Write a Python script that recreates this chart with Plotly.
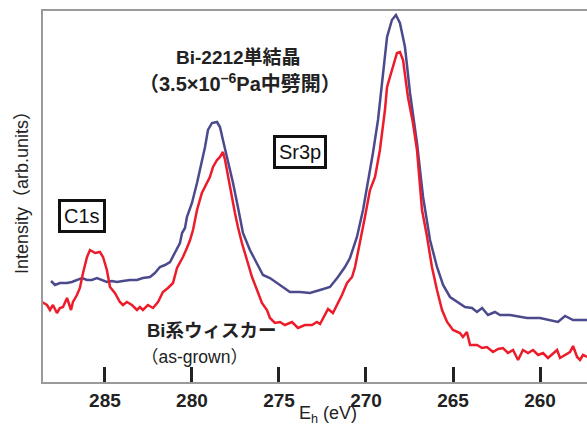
import plotly.graph_objects as go

# Binding energy (eV) and intensity (arb. units)
blue_ev = [288.10, 287.87, 287.59, 287.18, 286.90, 286.61, 286.32, 286.03, 285.75, 285.46,
           285.17, 284.89, 284.60, 284.31, 283.97, 283.56, 283.16, 282.82, 282.41, 282.13,
           281.84, 281.55, 281.26, 280.98, 280.86, 280.69, 280.57, 280.40, 280.29, 280.00,
           279.71, 279.43, 279.25, 279.08, 278.85, 278.56, 278.39, 278.22, 277.93, 277.64,
           277.36, 277.07, 276.67, 276.26, 275.92, 275.52, 275.11, 274.77, 274.37, 273.79,
           273.22, 272.64, 272.07, 271.61, 271.21, 270.92, 270.52, 270.17, 269.89, 269.60,
           269.31, 269.02, 268.79, 268.51, 268.28, 268.05, 267.76, 267.47, 267.07, 266.72,
           266.32, 265.92, 265.57, 265.17, 264.71, 264.31, 263.91, 263.62, 263.33, 262.99,
           262.59, 262.30, 261.72, 261.15, 260.75, 260.00, 259.43, 258.97, 258.56, 258.10,
           257.30]
blue_int = [101, 97, 99, 99, 100, 102, 104, 102, 102, 104,
            102, 100, 101, 100, 101, 102, 102, 104, 105, 109,
            115, 117, 120, 129, 132, 139, 149, 154, 165, 179,
            199, 219, 235, 252, 259, 260, 255, 242, 222, 199,
            175, 149, 132, 119, 107, 104, 99, 94, 90, 90,
            89, 92, 95, 105, 115, 124, 145, 172, 199, 229,
            262, 305, 345, 362, 367, 359, 335, 289, 239, 185,
            142, 115, 97, 85, 80, 75, 74, 70, 74, 67,
            70, 67, 67, 65, 64, 64, 62, 60, 66, 62,
            62]

red_ev = [288.62, 288.33, 288.16, 287.99, 287.76, 287.59, 287.41, 287.18, 286.95, 286.84,
          286.61, 286.44, 286.26, 286.03, 285.86, 285.57, 285.29, 285.11, 284.89, 284.71,
          284.43, 284.14, 283.97, 283.74, 283.45, 283.16, 282.99, 282.82, 282.53, 282.24,
          281.95, 281.67, 281.38, 281.09, 280.86, 280.69, 280.52, 280.29, 280.11, 279.94,
          279.71, 279.43, 279.14, 278.97, 278.79, 278.56, 278.39, 278.22, 278.10, 277.93,
          277.70, 277.53, 277.36, 277.13, 276.84, 276.55, 276.26, 275.98, 275.69, 275.52,
          275.23, 274.94, 274.66, 274.25, 273.91, 273.51, 273.10, 272.82, 272.64, 272.47,
          272.18, 271.90, 271.61, 271.38, 271.09, 270.80, 270.63, 270.34, 270.06, 269.77,
          269.48, 269.20, 268.91, 268.79, 268.51, 268.22, 268.05, 267.87, 267.59, 267.30,
          267.07, 266.78, 266.49, 266.21, 265.92, 265.63, 265.34, 265.00, 264.60, 264.43,
          264.20, 264.02, 263.62, 263.33, 263.05, 262.70, 262.41, 262.13, 261.84, 261.55,
          261.26, 260.98, 260.69, 260.40, 260.11, 259.83, 259.54, 259.25, 259.02, 258.85,
          258.56, 258.28, 258.10, 257.87, 257.70, 257.53, 257.30]
red_int = [80, 77, 72, 77, 69, 74, 75, 84, 72, 80,
           87, 94, 109, 125, 132, 129, 130, 125, 112, 95,
           89, 80, 77, 80, 77, 72, 75, 72, 77, 74,
           80, 90, 94, 99, 114, 119, 125, 134, 142, 152,
           172, 189, 199, 205, 215, 222, 225, 230, 222, 205,
           182, 169, 155, 139, 122, 105, 92, 79, 72, 64,
           59, 60, 57, 60, 54, 57, 57, 60, 58, 64,
           73, 69, 79, 87, 99, 105, 115, 139, 165, 192,
           205, 232, 272, 295, 312, 329, 330, 322, 285, 259,
           232, 172, 145, 115, 92, 72, 60, 52, 49, 45,
           50, 37, 37, 34, 35, 30, 33, 34, 29, 32,
           22, 32, 29, 32, 27, 29, 24, 29, 32, 24,
           27, 30, 36, 25, 22, 27, 25]

tick_vals = [285, 280, 275, 270, 265, 260]
tick_text = ["285", "280", "275", "270", "265", "260"]

FONT = "Liberation Sans, Noto Sans CJK JP"
TXT = "#222222"

fig = go.Figure()
fig.add_trace(go.Scatter(x=blue_ev, y=blue_int, mode="lines",
                         line=dict(color="#4b4a8c", width=2.5), showlegend=False))
fig.add_trace(go.Scatter(x=red_ev, y=red_int, mode="lines",
                         line=dict(color="#ec1c2a", width=2.5), showlegend=False))

fig.update_layout(
    width=587, height=427,
    margin=dict(l=43, r=0, t=11, b=45),
    paper_bgcolor="white", plot_bgcolor="white",
    font=dict(family=FONT, color=TXT),
    xaxis=dict(range=[288.56, 257.3], tickvals=tick_vals, ticktext=tick_text,
               ticks="inside", ticklen=15, tickwidth=3, tickcolor=TXT,
               showline=True, linecolor="#9a9a9a", linewidth=2, mirror=True,
               showgrid=False, zeroline=False,
               tickfont=dict(family=FONT, size=19, color=TXT, weight="bold")),
    yaxis=dict(range=[0, 371], showticklabels=False, ticks="",
               showline=True, linecolor="#9a9a9a", linewidth=2,
               showgrid=False, zeroline=False),
)

ann = [
    dict(text="<b>Bi-2212単結晶</b>", x=238, y=57, size=19),
    dict(text="<b>（3.5×10<sup>–6</sup>Pa中劈開）</b>", x=240, y=82, size=20),
    dict(text="<b>Bi系ウィスカー</b>", x=212, y=330, size=18.5),
    dict(text="（as-grown）", x=194, y=357, size=17.5),
    dict(text="E<sub>h</sub> (eV)", x=328, y=415, size=18),
]
annotations = []
for a in ann:
    annotations.append(dict(text=a["text"], xref="paper", yref="paper",
                            x=(a["x"] - 43) / 544, y=(382 - a["y"]) / 371,
                            xanchor="center", yanchor="middle", showarrow=False,
                            font=dict(family=FONT, size=a["size"], color=TXT)))
# boxed labels
for text, cx, cy in [("Sr3p", 300, 152), ("C1s", 82, 216)]:
    annotations.append(dict(text=text, xref="paper", yref="paper",
                            x=(cx - 43) / 544, y=(382 - cy) / 371,
                            xanchor="center", yanchor="middle", showarrow=False,
                            bordercolor="#111111", borderwidth=3, borderpad=3,
                            bgcolor="white",
                            font=dict(family=FONT, size=20, color="#111111")))
annotations.append(dict(text="Intensity（arb.units）", xref="paper", yref="paper",
                        x=(22 - 43) / 544, y=(382 - 188) / 371, textangle=-90,
                        xanchor="center", yanchor="middle", showarrow=False,
                        font=dict(family=FONT, size=18, color=TXT)))
fig.update_layout(annotations=annotations)

fig.write_html("out.html", config={"displayModeBar": False},
               post_script="document.body.style.margin='0';document.body.style.overflow='hidden';")
